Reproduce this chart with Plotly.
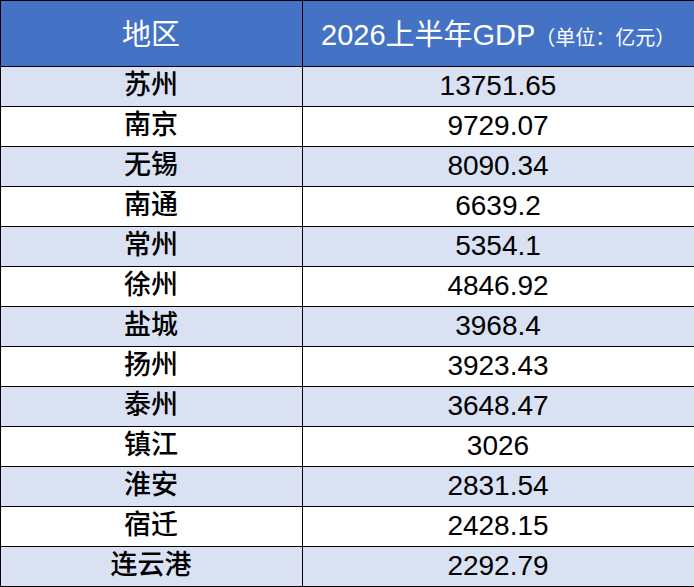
import plotly.graph_objects as go

# 数据
regions = ["苏州", "南京", "无锡", "南通", "常州", "徐州", "盐城",
           "扬州", "泰州", "镇江", "淮安", "宿迁", "连云港"]
gdp = ["13751.65", "9729.07", "8090.34", "6639.2", "5354.1", "4846.92", "3968.4",
       "3923.43", "3648.47", "3026", "2831.54", "2428.15", "2292.79"]
header_main = ["地区", "2026上半年GDP"]
header_unit = ["", "（单位：亿元）"]

W, H = 694, 587
col_w = [302, 392]
header_h = 66

# 隔行填色
stripe = ["#D9E1F2" if i % 2 == 0 else "#FFFFFF" for i in range(len(regions))]

fig = go.Figure(go.Table(
    columnwidth=col_w,
    header=dict(values=["", ""], fill_color="#4472C4",
                line=dict(color="black", width=1), height=header_h),
    cells=dict(values=[regions, gdp], fill_color=[stripe, stripe], align="center",
               line=dict(color="black", width=1), height=40,
               font=dict(family=["Noto Sans CJK SC", "Liberation Sans"], size=[27, 28],
                         color="black", weight=[500, 400])),
    domain=dict(x=[0, 1], y=[0, 1]),
))

# 表头文字（居中）
left = 0
for main, unit, w in zip(header_main, header_unit, col_w):
    txt = main + (f"<span style='font-size:20px'>{unit}</span>" if unit else "")
    fig.add_annotation(x=(left + w / 2) / W, y=1 - 35 / H, xref="paper", yref="paper",
                       text=txt, showarrow=False, xanchor="center", yanchor="middle",
                       font=dict(family="Liberation Sans, Noto Sans CJK SC", size=29, color="white"))
    left += w

fig.update_layout(width=W, height=H, margin=dict(l=0, r=0, t=0, b=0),
                  paper_bgcolor="white")

# 去掉页面默认边距
fig.write_html("out.html", config={"displayModeBar": False},
               post_script="document.body.style.margin='0';")
